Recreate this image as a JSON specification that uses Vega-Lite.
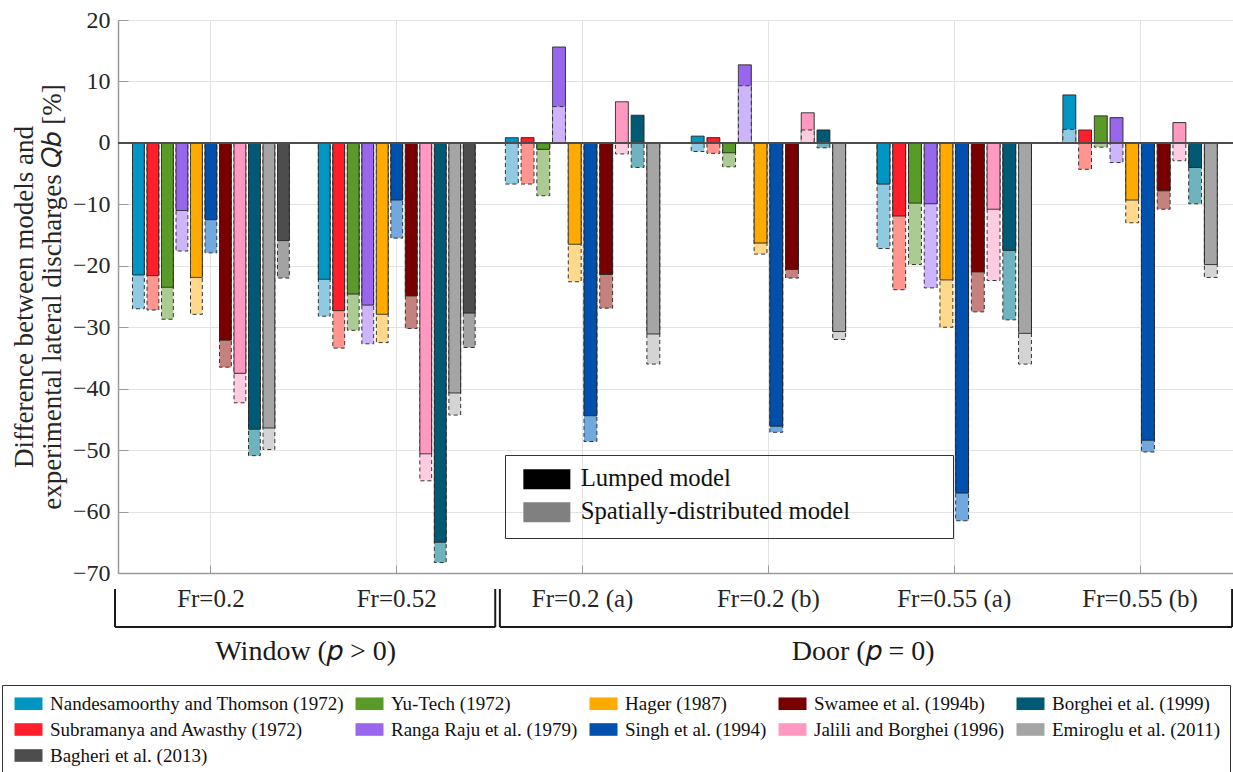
{
  "$schema": "https://vega.github.io/schema/vega-lite/v6.json",
  "width": 1115,
  "height": 553,
  "autosize": {"type": "none"},
  "padding": {"left": 118, "top": 20, "right": 0, "bottom": 199},
  "background": "white",
  "config": {
    "view": {"stroke": null},
    "font": "Liberation Serif",
    "text": {"font": "Liberation Serif"},
    "legend": {"labelFont": "Liberation Serif", "titleFont": "Liberation Serif"},
    "axis": {"labelFont": "Liberation Serif", "titleFont": "Liberation Serif"},
    "axisY": {
      "grid": true, "gridColor": "#e3e3e3", "gridWidth": 1,
      "domainColor": "#9a9a9a", "domainWidth": 1.5,
      "tickColor": "#9a9a9a", "tickSize": -10, "tickWidth": 1,
      "labelFont": "Liberation Serif", "labelFontSize": 24, "labelColor": "#262626", "labelPadding": 18,
      "titleFont": "Liberation Serif", "titleFontSize": 27, "titleFontWeight": "normal", "titleColor": "#262626",
      "titleLineHeight": 28, "titlePadding": 6
    },
    "axisX": {
      "grid": true, "gridColor": "#e3e3e3", "gridWidth": 1,
      "domainColor": "#9a9a9a", "domainWidth": 1.5,
      "tickColor": "#9a9a9a", "tickSize": -8, "tickWidth": 1,
      "labelFont": "Liberation Serif", "labelFontSize": 25, "labelColor": "#262626", "labelPadding": 21, "labelAngle": 0
    }
  },
  "datasets": {
    "bars": [
      {"site": "Window", "group": "Fr=0.2", "model": "Nandesamoorthy and Thomson (1972)", "L": -21.5, "D": -27.0},
      {"site": "Window", "group": "Fr=0.2", "model": "Subramanya and Awasthy (1972)", "L": -21.6, "D": -27.2},
      {"site": "Window", "group": "Fr=0.2", "model": "Yu-Tech (1972)", "L": -23.5, "D": -28.7},
      {"site": "Window", "group": "Fr=0.2", "model": "Ranga Raju et al. (1979)", "L": -11.0, "D": -17.6},
      {"site": "Window", "group": "Fr=0.2", "model": "Hager (1987)", "L": -21.9, "D": -27.9},
      {"site": "Window", "group": "Fr=0.2", "model": "Singh et al. (1994)", "L": -12.5, "D": -17.9},
      {"site": "Window", "group": "Fr=0.2", "model": "Swamee et al. (1994b)", "L": -32.1, "D": -36.5},
      {"site": "Window", "group": "Fr=0.2", "model": "Jalili and Borghei (1996)", "L": -37.5, "D": -42.3},
      {"site": "Window", "group": "Fr=0.2", "model": "Borghei et al. (1999)", "L": -46.6, "D": -50.9},
      {"site": "Window", "group": "Fr=0.2", "model": "Emiroglu et al. (2011)", "L": -46.4, "D": -49.9},
      {"site": "Window", "group": "Fr=0.2", "model": "Bagheri et al. (2013)", "L": -15.9, "D": -22.0},
      {"site": "Window", "group": "Fr=0.52", "model": "Nandesamoorthy and Thomson (1972)", "L": -22.2, "D": -28.2},
      {"site": "Window", "group": "Fr=0.52", "model": "Subramanya and Awasthy (1972)", "L": -27.3, "D": -33.4},
      {"site": "Window", "group": "Fr=0.52", "model": "Yu-Tech (1972)", "L": -24.6, "D": -30.5},
      {"site": "Window", "group": "Fr=0.52", "model": "Ranga Raju et al. (1979)", "L": -26.4, "D": -32.7},
      {"site": "Window", "group": "Fr=0.52", "model": "Hager (1987)", "L": -27.9, "D": -32.5},
      {"site": "Window", "group": "Fr=0.52", "model": "Singh et al. (1994)", "L": -9.3, "D": -15.5},
      {"site": "Window", "group": "Fr=0.52", "model": "Swamee et al. (1994b)", "L": -24.9, "D": -30.2},
      {"site": "Window", "group": "Fr=0.52", "model": "Jalili and Borghei (1996)", "L": -50.6, "D": -55.0},
      {"site": "Window", "group": "Fr=0.52", "model": "Borghei et al. (1999)", "L": -65.0, "D": -68.3},
      {"site": "Window", "group": "Fr=0.52", "model": "Emiroglu et al. (2011)", "L": -40.7, "D": -44.3},
      {"site": "Window", "group": "Fr=0.52", "model": "Bagheri et al. (2013)", "L": -27.7, "D": -33.3},
      {"site": "Door", "group": "Fr=0.2 (a)", "model": "Nandesamoorthy and Thomson (1972)", "L": 0.85, "D": -6.7},
      {"site": "Door", "group": "Fr=0.2 (a)", "model": "Subramanya and Awasthy (1972)", "L": 0.85, "D": -6.7},
      {"site": "Door", "group": "Fr=0.2 (a)", "model": "Yu-Tech (1972)", "L": -1.05, "D": -8.6},
      {"site": "Door", "group": "Fr=0.2 (a)", "model": "Ranga Raju et al. (1979)", "L": 15.6, "D": 5.9},
      {"site": "Door", "group": "Fr=0.2 (a)", "model": "Hager (1987)", "L": -16.5, "D": -22.6},
      {"site": "Door", "group": "Fr=0.2 (a)", "model": "Singh et al. (1994)", "L": -44.4, "D": -48.6},
      {"site": "Door", "group": "Fr=0.2 (a)", "model": "Swamee et al. (1994b)", "L": -21.4, "D": -26.9},
      {"site": "Door", "group": "Fr=0.2 (a)", "model": "Jalili and Borghei (1996)", "L": 6.7, "D": -1.8},
      {"site": "Door", "group": "Fr=0.2 (a)", "model": "Borghei et al. (1999)", "L": 4.5, "D": -4.0},
      {"site": "Door", "group": "Fr=0.2 (a)", "model": "Emiroglu et al. (2011)", "L": -31.1, "D": -36.0},
      {"site": "Door", "group": "Fr=0.2 (b)", "model": "Nandesamoorthy and Thomson (1972)", "L": 1.1, "D": -1.4},
      {"site": "Door", "group": "Fr=0.2 (b)", "model": "Subramanya and Awasthy (1972)", "L": 0.85, "D": -1.7},
      {"site": "Door", "group": "Fr=0.2 (b)", "model": "Yu-Tech (1972)", "L": -1.6, "D": -3.9},
      {"site": "Door", "group": "Fr=0.2 (b)", "model": "Ranga Raju et al. (1979)", "L": 12.7, "D": 9.3},
      {"site": "Door", "group": "Fr=0.2 (b)", "model": "Hager (1987)", "L": -16.3, "D": -18.1},
      {"site": "Door", "group": "Fr=0.2 (b)", "model": "Singh et al. (1994)", "L": -46.1, "D": -47.1},
      {"site": "Door", "group": "Fr=0.2 (b)", "model": "Swamee et al. (1994b)", "L": -20.6, "D": -22.0},
      {"site": "Door", "group": "Fr=0.2 (b)", "model": "Jalili and Borghei (1996)", "L": 4.9, "D": 2.1},
      {"site": "Door", "group": "Fr=0.2 (b)", "model": "Borghei et al. (1999)", "L": 2.1, "D": -0.8},
      {"site": "Door", "group": "Fr=0.2 (b)", "model": "Emiroglu et al. (2011)", "L": -30.7, "D": -32.0},
      {"site": "Door", "group": "Fr=0.55 (a)", "model": "Nandesamoorthy and Thomson (1972)", "L": -6.7, "D": -17.2},
      {"site": "Door", "group": "Fr=0.55 (a)", "model": "Subramanya and Awasthy (1972)", "L": -11.9, "D": -23.9},
      {"site": "Door", "group": "Fr=0.55 (a)", "model": "Yu-Tech (1972)", "L": -9.8, "D": -19.8},
      {"site": "Door", "group": "Fr=0.55 (a)", "model": "Ranga Raju et al. (1979)", "L": -9.9, "D": -23.6},
      {"site": "Door", "group": "Fr=0.55 (a)", "model": "Hager (1987)", "L": -22.3, "D": -30.0},
      {"site": "Door", "group": "Fr=0.55 (a)", "model": "Singh et al. (1994)", "L": -57.0, "D": -61.5},
      {"site": "Door", "group": "Fr=0.55 (a)", "model": "Swamee et al. (1994b)", "L": -21.0, "D": -27.5},
      {"site": "Door", "group": "Fr=0.55 (a)", "model": "Jalili and Borghei (1996)", "L": -10.8, "D": -22.4},
      {"site": "Door", "group": "Fr=0.55 (a)", "model": "Borghei et al. (1999)", "L": -17.5, "D": -28.8},
      {"site": "Door", "group": "Fr=0.55 (a)", "model": "Emiroglu et al. (2011)", "L": -31.0, "D": -36.0},
      {"site": "Door", "group": "Fr=0.55 (b)", "model": "Nandesamoorthy and Thomson (1972)", "L": 7.8, "D": 2.2},
      {"site": "Door", "group": "Fr=0.55 (b)", "model": "Subramanya and Awasthy (1972)", "L": 2.1, "D": -4.3},
      {"site": "Door", "group": "Fr=0.55 (b)", "model": "Yu-Tech (1972)", "L": 4.4, "D": -0.7},
      {"site": "Door", "group": "Fr=0.55 (b)", "model": "Ranga Raju et al. (1979)", "L": 4.1, "D": -3.2},
      {"site": "Door", "group": "Fr=0.55 (b)", "model": "Hager (1987)", "L": -9.3, "D": -13.0},
      {"site": "Door", "group": "Fr=0.55 (b)", "model": "Singh et al. (1994)", "L": -48.4, "D": -50.3},
      {"site": "Door", "group": "Fr=0.55 (b)", "model": "Swamee et al. (1994b)", "L": -7.8, "D": -10.8},
      {"site": "Door", "group": "Fr=0.55 (b)", "model": "Jalili and Borghei (1996)", "L": 3.3, "D": -2.9},
      {"site": "Door", "group": "Fr=0.55 (b)", "model": "Borghei et al. (1999)", "L": -4.0, "D": -9.9},
      {"site": "Door", "group": "Fr=0.55 (b)", "model": "Emiroglu et al. (2011)", "L": -19.8, "D": -21.9}
    ],
    "brackets": [
      {"site": "Window", "label": "Window (𝑝 > 0)", "start": "Fr=0.2", "end": "Fr=0.52", "mid": "Fr=0.2"},
      {"site": "Door", "label": "Door (𝑝 = 0)", "start": "Fr=0.2 (a)", "end": "Fr=0.55 (b)", "mid": "Fr=0.2 (b)"}
    ]
  },
  "data": {"name": "bars"},
  "layer": [
    {
      "transform": [{"filter": "datum.site === 'Window'"}],
      "encoding": {
        "x": {"field": "group", "type": "nominal", "title": null,
              "scale": {"domain": ["Fr=0.2", "Fr=0.52", "Fr=0.2 (a)", "Fr=0.2 (b)", "Fr=0.55 (a)", "Fr=0.55 (b)"], "paddingInner": 0, "paddingOuter": 0},
              "axis": {"grid": true, "bandPosition": 0.5}},
        "xOffset": {"field": "model", "type": "nominal",
              "scale": {"domain": ["Nandesamoorthy and Thomson (1972)", "Subramanya and Awasthy (1972)", "Yu-Tech (1972)", "Ranga Raju et al. (1979)", "Hager (1987)", "Singh et al. (1994)", "Swamee et al. (1994b)", "Jalili and Borghei (1996)", "Borghei et al. (1999)", "Emiroglu et al. (2011)", "Bagheri et al. (2013)"], "paddingInner": 0.185, "paddingOuter": 1.474}}
      },
      "layer": [
        {
          "transform": [{"filter": "abs(datum.D) > abs(datum.L)"}],
          "mark": {"type": "bar", "stroke": "#333333", "strokeWidth": 1},
          "encoding": {
            "y": {"field": "D", "type": "quantitative", "scale": {"domain": [-70, 20], "nice": false}, "axis": {"values": [-70, -60, -50, -40, -30, -20, -10, 0, 10, 20]}, "title": ["Difference between models and", "experimental lateral discharges 𝑄𝑏 [%]"]},
            "color": {"field": "model", "type": "nominal", "legend": null,
              "scale": {"domain": ["Nandesamoorthy and Thomson (1972)", "Subramanya and Awasthy (1972)", "Yu-Tech (1972)", "Ranga Raju et al. (1979)", "Hager (1987)", "Singh et al. (1994)", "Swamee et al. (1994b)", "Jalili and Borghei (1996)", "Borghei et al. (1999)", "Emiroglu et al. (2011)", "Bagheri et al. (2013)"],
                        "range": ["#8fcae2", "#ff958f", "#abcb92", "#cdb4fb", "#ffd98b", "#71a9de", "#c4817d", "#ffcbe1", "#6eb3be", "#d4d4d4", "#a3a3a3"]}},
            "strokeDash": {"datum": "Spatially-distributed model", "type": "nominal",
              "scale": {"domain": ["Lumped model", "Spatially-distributed model"], "range": [[1, 0], [4, 3]]},
              "legend": {"orient": "none", "legendX": 387, "legendY": 435, "title": null,
                         "symbolType": "M-0.6,-1H4.1V1H-0.6Z", "symbolSize": 400, "symbolStrokeWidth": 1.5, "symbolStrokeColor": "#333333",
                         "labelFont": "Liberation Serif", "labelFontSize": 24.7, "labelColor": "#111111", "labelLimit": 0, "labelOffset": 39,
                         "labelExpr": "datum.label + '⠀⠀⠀⠀⠀'",
                         "rowPadding": 6, "padding": 12, "strokeColor": "#333333",
                         "encoding": {"symbols": {"fill": {"condition": {"test": "datum.value === 'Lumped model'", "value": "#000000"}, "value": "#808080"}}}}}
          }
        },
        {
          "mark": {"type": "bar", "stroke": "#262626", "strokeWidth": 1},
          "encoding": {
            "y": {"field": "L", "type": "quantitative", "scale": {"domain": [-70, 20], "nice": false}, "axis": {"values": [-70, -60, -50, -40, -30, -20, -10, 0, 10, 20]}, "title": ["Difference between models and", "experimental lateral discharges 𝑄𝑏 [%]"]},
            "fill": {"field": "model", "type": "nominal",
              "scale": {"domain": ["Nandesamoorthy and Thomson (1972)", "Yu-Tech (1972)", "Hager (1987)", "Swamee et al. (1994b)", "Borghei et al. (1999)", "Subramanya and Awasthy (1972)", "Ranga Raju et al. (1979)", "Singh et al. (1994)", "Jalili and Borghei (1996)", "Emiroglu et al. (2011)", "Bagheri et al. (2013)"],
                        "range": ["#0096c4", "#5a9a28", "#ffaa00", "#780000", "#005a73", "#ff1f2b", "#9966ee", "#0050ae", "#ff99c2", "#a5a5a5", "#4d4d4d"]},
              "legend": {"orient": "none", "legendX": -116, "legendY": 665, "columns": 5, "direction": "horizontal", "title": null,
                         "symbolType": "M-1,-1.05H3.667V1.05H-1Z", "symbolSize": 144, "symbolStrokeWidth": 0,
                         "labelFont": "Liberation Serif", "labelFontSize": 19, "labelColor": "#111111", "labelLimit": 0, "labelOffset": 20,
                         "columnPadding": 8, "rowPadding": 6, "padding": 9, "strokeColor": "#333333"}},
            "strokeDash": {"datum": "Lumped model", "type": "nominal",
              "scale": {"domain": ["Lumped model", "Spatially-distributed model"], "range": [[1, 0], [4, 3]]},
              "legend": {"orient": "none", "legendX": 387, "legendY": 435, "title": null,
                         "symbolType": "M-0.6,-1H4.1V1H-0.6Z", "symbolSize": 400, "symbolStrokeWidth": 1.5, "symbolStrokeColor": "#333333",
                         "labelFont": "Liberation Serif", "labelFontSize": 24.7, "labelColor": "#111111", "labelLimit": 0, "labelOffset": 39,
                         "labelExpr": "datum.label + '⠀⠀⠀⠀⠀'",
                         "rowPadding": 6, "padding": 12, "strokeColor": "#333333",
                         "encoding": {"symbols": {"fill": {"condition": {"test": "datum.value === 'Lumped model'", "value": "#000000"}, "value": "#808080"}}}}}
          }
        },
        {
          "transform": [{"filter": "abs(datum.D) <= abs(datum.L)"}],
          "mark": {"type": "bar", "stroke": "#333333", "strokeWidth": 1},
          "encoding": {
            "y": {"field": "D", "type": "quantitative", "scale": {"domain": [-70, 20], "nice": false}, "axis": {"values": [-70, -60, -50, -40, -30, -20, -10, 0, 10, 20]}, "title": ["Difference between models and", "experimental lateral discharges 𝑄𝑏 [%]"]},
            "color": {"field": "model", "type": "nominal", "legend": null},
            "strokeDash": {"datum": "Spatially-distributed model", "type": "nominal",
              "legend": {"orient": "none", "legendX": 387, "legendY": 435, "title": null,
                         "symbolType": "M-0.6,-1H4.1V1H-0.6Z", "symbolSize": 400, "symbolStrokeWidth": 1.5, "symbolStrokeColor": "#333333",
                         "labelFont": "Liberation Serif", "labelFontSize": 24.7, "labelColor": "#111111", "labelLimit": 0, "labelOffset": 39,
                         "labelExpr": "datum.label + '⠀⠀⠀⠀⠀'",
                         "rowPadding": 6, "padding": 12, "strokeColor": "#333333",
                         "encoding": {"symbols": {"fill": {"condition": {"test": "datum.value === 'Lumped model'", "value": "#000000"}, "value": "#808080"}}}}}
          }
        }
      ]
    },
    {
      "transform": [{"filter": "datum.site === 'Door'"}],
      "encoding": {
        "x": {"field": "group", "type": "nominal", "title": null,
              "scale": {"domain": ["Fr=0.2", "Fr=0.52", "Fr=0.2 (a)", "Fr=0.2 (b)", "Fr=0.55 (a)", "Fr=0.55 (b)"], "paddingInner": 0, "paddingOuter": 0},
              "axis": {"grid": true, "bandPosition": 0.5}},
        "xOffset": {"field": "model", "type": "nominal",
              "scale": {"domain": ["Nandesamoorthy and Thomson (1972)", "Subramanya and Awasthy (1972)", "Yu-Tech (1972)", "Ranga Raju et al. (1979)", "Hager (1987)", "Singh et al. (1994)", "Swamee et al. (1994b)", "Jalili and Borghei (1996)", "Borghei et al. (1999)", "Emiroglu et al. (2011)"], "paddingInner": 0.18, "paddingOuter": 1.325}}
      },
      "layer": [
        {
          "transform": [{"filter": "abs(datum.D) > abs(datum.L)"}],
          "mark": {"type": "bar", "stroke": "#333333", "strokeWidth": 1},
          "encoding": {
            "y": {"field": "D", "type": "quantitative", "scale": {"domain": [-70, 20], "nice": false}, "axis": {"values": [-70, -60, -50, -40, -30, -20, -10, 0, 10, 20]}, "title": ["Difference between models and", "experimental lateral discharges 𝑄𝑏 [%]"]},
            "color": {"field": "model", "type": "nominal", "legend": null},
            "strokeDash": {"datum": "Spatially-distributed model", "type": "nominal",
              "legend": {"orient": "none", "legendX": 387, "legendY": 435, "title": null,
                         "symbolType": "M-0.6,-1H4.1V1H-0.6Z", "symbolSize": 400, "symbolStrokeWidth": 1.5, "symbolStrokeColor": "#333333",
                         "labelFont": "Liberation Serif", "labelFontSize": 24.7, "labelColor": "#111111", "labelLimit": 0, "labelOffset": 39,
                         "labelExpr": "datum.label + '⠀⠀⠀⠀⠀'",
                         "rowPadding": 6, "padding": 12, "strokeColor": "#333333",
                         "encoding": {"symbols": {"fill": {"condition": {"test": "datum.value === 'Lumped model'", "value": "#000000"}, "value": "#808080"}}}}}
          }
        },
        {
          "mark": {"type": "bar", "stroke": "#262626", "strokeWidth": 1},
          "encoding": {
            "y": {"field": "L", "type": "quantitative", "scale": {"domain": [-70, 20], "nice": false}, "axis": {"values": [-70, -60, -50, -40, -30, -20, -10, 0, 10, 20]}, "title": ["Difference between models and", "experimental lateral discharges 𝑄𝑏 [%]"]},
            "fill": {"field": "model", "type": "nominal",
              "legend": {"orient": "none", "legendX": -116, "legendY": 665, "columns": 5, "direction": "horizontal", "title": null,
                         "symbolType": "M-1,-1.05H3.667V1.05H-1Z", "symbolSize": 144, "symbolStrokeWidth": 0,
                         "labelFont": "Liberation Serif", "labelFontSize": 19, "labelColor": "#111111", "labelLimit": 0, "labelOffset": 20,
                         "columnPadding": 8, "rowPadding": 6, "padding": 9, "strokeColor": "#333333"}},
            "strokeDash": {"datum": "Lumped model", "type": "nominal",
              "legend": {"orient": "none", "legendX": 387, "legendY": 435, "title": null,
                         "symbolType": "M-0.6,-1H4.1V1H-0.6Z", "symbolSize": 400, "symbolStrokeWidth": 1.5, "symbolStrokeColor": "#333333",
                         "labelFont": "Liberation Serif", "labelFontSize": 24.7, "labelColor": "#111111", "labelLimit": 0, "labelOffset": 39,
                         "labelExpr": "datum.label + '⠀⠀⠀⠀⠀'",
                         "rowPadding": 6, "padding": 12, "strokeColor": "#333333",
                         "encoding": {"symbols": {"fill": {"condition": {"test": "datum.value === 'Lumped model'", "value": "#000000"}, "value": "#808080"}}}}}
          }
        },
        {
          "transform": [{"filter": "abs(datum.D) <= abs(datum.L)"}],
          "mark": {"type": "bar", "stroke": "#333333", "strokeWidth": 1},
          "encoding": {
            "y": {"field": "D", "type": "quantitative", "scale": {"domain": [-70, 20], "nice": false}, "axis": {"values": [-70, -60, -50, -40, -30, -20, -10, 0, 10, 20]}, "title": ["Difference between models and", "experimental lateral discharges 𝑄𝑏 [%]"]},
            "color": {"field": "model", "type": "nominal", "legend": null},
            "strokeDash": {"datum": "Spatially-distributed model", "type": "nominal",
              "legend": {"orient": "none", "legendX": 387, "legendY": 435, "title": null,
                         "symbolType": "M-0.6,-1H4.1V1H-0.6Z", "symbolSize": 400, "symbolStrokeWidth": 1.5, "symbolStrokeColor": "#333333",
                         "labelFont": "Liberation Serif", "labelFontSize": 24.7, "labelColor": "#111111", "labelLimit": 0, "labelOffset": 39,
                         "labelExpr": "datum.label + '⠀⠀⠀⠀⠀'",
                         "rowPadding": 6, "padding": 12, "strokeColor": "#333333",
                         "encoding": {"symbols": {"fill": {"condition": {"test": "datum.value === 'Lumped model'", "value": "#000000"}, "value": "#808080"}}}}}
          }
        }
      ]
    },
    {
      "mark": {"type": "rule", "color": "#4d4d4d", "strokeWidth": 1.2},
      "encoding": {"y": {"datum": 0, "type": "quantitative"}}
    },
    {
      "data": {"name": "brackets"},
      "transform": [{"filter": "datum.site === 'Window'"}],
      "layer": [
        {"mark": {"type": "rule", "color": "#1a1a1a", "strokeWidth": 2},
         "encoding": {"x": {"field": "start", "type": "nominal", "bandPosition": -0.016, "title": null},
                      "x2": {"field": "end", "bandPosition": 1.03},
                      "y": {"datum": -78.8, "type": "quantitative"}}},
        {"mark": {"type": "rule", "color": "#1a1a1a", "strokeWidth": 2},
         "encoding": {"x": {"field": "start", "type": "nominal", "bandPosition": -0.016, "title": null},
                      "y": {"datum": -72.6, "type": "quantitative"}, "y2": {"datum": -78.8}}},
        {"mark": {"type": "rule", "color": "#1a1a1a", "strokeWidth": 2},
         "encoding": {"x": {"field": "end", "type": "nominal", "bandPosition": 1.03, "title": null},
                      "y": {"datum": -72.6, "type": "quantitative"}, "y2": {"datum": -78.8}}}
      ]
    },
    {
      "data": {"name": "brackets"},
      "transform": [{"filter": "datum.site === 'Door'"}],
      "layer": [
        {"mark": {"type": "rule", "color": "#1a1a1a", "strokeWidth": 2},
         "encoding": {"x": {"field": "start", "type": "nominal", "bandPosition": 0.055, "title": null},
                      "x2": {"field": "end", "bandPosition": 0.995},
                      "y": {"datum": -78.8, "type": "quantitative"}}},
        {"mark": {"type": "rule", "color": "#1a1a1a", "strokeWidth": 2},
         "encoding": {"x": {"field": "start", "type": "nominal", "bandPosition": 0.055, "title": null},
                      "y": {"datum": -72.6, "type": "quantitative"}, "y2": {"datum": -78.8}}},
        {"mark": {"type": "rule", "color": "#1a1a1a", "strokeWidth": 2},
         "encoding": {"x": {"field": "end", "type": "nominal", "bandPosition": 0.995, "title": null},
                      "y": {"datum": -72.6, "type": "quantitative"}, "y2": {"datum": -78.8}}}
      ]
    },
    {
      "data": {"name": "brackets"},
      "mark": {"type": "text", "font": "Liberation Serif", "fontSize": 28, "color": "#1a1a1a", "align": "center", "baseline": "middle"},
      "encoding": {
        "x": {"field": "mid", "type": "nominal", "bandPosition": 1.01, "title": null},
        "y": {"datum": -82.9, "type": "quantitative"},
        "text": {"field": "label"}
      }
    }
  ],
  "resolve": {"scale": {"xOffset": "independent"}}
}
